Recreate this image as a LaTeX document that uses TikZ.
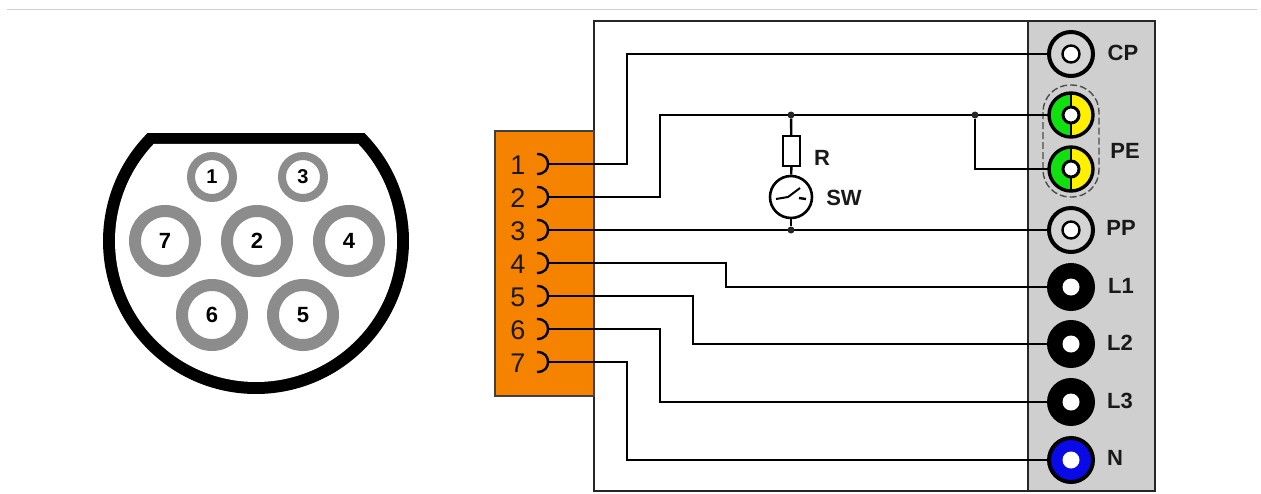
\documentclass[tikz,border=0pt]{standalone}
\usepackage{fontspec}
\setmainfont{Liberation Sans}
\definecolor{panelgrey}{HTML}{CFCFCF}
\definecolor{pingrey}{HTML}{8C8C8C}
\definecolor{bodyorange}{HTML}{F58300}
\definecolor{earthgreen}{HTML}{10E010}
\definecolor{earthyellow}{HTML}{FFF000}
\definecolor{nblue}{HTML}{0A0AE6}
\tikzset{
  wire/.style={line width=2.8pt,black,line join=miter},
  pinbig/.style={circle,draw=pingrey,line width=12pt,minimum size=60pt,inner sep=0pt,fill=white,font=\fontsize{22}{22}\bfseries\selectfont},
  pinsmall/.style={circle,draw=pingrey,line width=8pt,minimum size=42pt,inner sep=0pt,fill=white,font=\fontsize{20}{20}\bfseries\selectfont},
  term/.style={circle,draw=black,line width=4pt,minimum size=44pt,inner sep=0pt,outer sep=0pt},
  hole/.style={circle,draw=black,fill=white,line width=2.4pt,minimum size=17pt,inner sep=0pt},
  holeblack/.style={circle,fill=white,minimum size=17pt,inner sep=0pt},
  lab/.style={font=\fontsize{22}{22}\bfseries\selectfont,text=black!90,inner sep=0pt},
  num/.style={font=\fontsize{27}{27}\selectfont,text=black!90,inner sep=0pt},
  earth/.style={term,line width=3.4pt,path picture={
    \fill[earthgreen] (path picture bounding box.south west) rectangle (path picture bounding box.north);
    \fill[earthyellow] (path picture bounding box.south) rectangle (path picture bounding box.north east);
    \draw[black,line width=2.8pt] (path picture bounding box.south) -- (path picture bounding box.north);}},
  dot/.style={circle,fill=black!85,minimum size=7pt,inner sep=0pt},
  contact/.style={line width=2.4pt,black},
}
\newcommand{\contactarc}[1]{\draw[contact] ([shift={(-11,-10)}]#1) .. controls ([shift={(-3,-10)}]#1) and ([shift={(0,-5)}]#1) .. (#1) .. controls ([shift={(0,5)}]#1) and ([shift={(-3,10)}]#1) .. ([shift={(-11,10)}]#1);}
\begin{document}
\begin{tikzpicture}[x=1pt,y=-1pt]
\useasboundingbox (0,0) rectangle (1261,493);
\fill[white] (0,0) rectangle (1261,493);
\draw[black!18,line width=1.5pt] (7,9.5) -- (1257,9.5);

% left: connector face
\coordinate (ctr) at (256,241);
\fill[black] ([shift={(-44.9:153)}]ctr) arc[start angle=-44.9,end angle=224.9,radius=153] -- cycle;
\fill[white] ([shift={(-43.5:141)}]ctr) arc[start angle=-43.5,end angle=223.5,radius=141] -- cycle;
\node[pinsmall] (p1) at (212,177) {1};
\node[pinsmall] (p3) at (303,177) {3};
\node[pinbig] (p7) at (165,241) {7};
\node[pinbig] (p2) at (257,241) {2};
\node[pinbig] (p4) at (349,241) {4};
\node[pinbig] (p6) at (212,315) {6};
\node[pinbig] (p5) at (303,315) {5};

% enclosure
\fill[panelgrey] (1028,21) rectangle (1155,491);
\draw[line width=2pt,black!85] (594,21) rectangle (1155,491);
\draw[line width=2pt,black!85] (1028,21) -- (1028,491);
\draw[line width=1.4pt,black!75,fill=bodyorange] (495,131) rectangle (594,396);

% digits and contacts
\foreach \n/\y in {1/164,2/197,3/230,4/263,5/296,6/329,7/362}{
  \node[num] (d\n) at (518,\y+1) {\n};
  \coordinate (c\n) at (548,\y);
  \contactarc{c\n}
}

% PE group
\draw[dashed,dash pattern=on 7pt off 3pt,line width=1.4pt,black!70,rounded corners=27pt] (1043,85) rectangle (1099,197);

% terminals
\node[term,fill=panelgrey!90!white] (tCP) at (1071,54) {};
\node[earth] (tPEa) at (1071,115) {};
\node[earth] (tPEb) at (1071,169) {};
\node[term,fill=panelgrey!90!white] (tPP) at (1071,230) {};
\node[term,fill=black] (tL1) at (1071,287) {};
\node[term,fill=black] (tL2) at (1071,344) {};
\node[term,fill=black] (tL3) at (1071,402) {};
\node[term,fill=nblue] (tN) at (1071,460) {};
\node[hole] (hCP) at (tCP) {};
\node[hole,line width=3pt,minimum size=16pt] (hPEa) at (tPEa) {};
\node[hole,line width=3pt,minimum size=16pt] (hPEb) at (tPEb) {};
\node[hole] (hPP) at (tPP) {};
\node[holeblack] (hL1) at (tL1) {};
\node[holeblack] (hL2) at (tL2) {};
\node[holeblack] (hL3) at (tL3) {};
\node[holeblack] (hN) at (tN) {};

% wires
\draw[wire] (c1) -- (627,164) -- (627,54) -- (tCP);
\draw[wire] (c2) -- (660,197) -- (660,115) -- (tPEa);
\draw[wire] (c3) -- (tPP);
\draw[wire] (c4) -- (726,263) -- (726,287) -- (tL1);
\draw[wire] (c5) -- (693,296) -- (693,344) -- (tL2);
\draw[wire] (c6) -- (660,329) -- (660,402) -- (tL3);
\draw[wire] (c7) -- (627,362) -- (627,460) -- (tN);
\node[dot] (j1) at (791,115) {};
\node[dot] (j2) at (975,115) {};
\node[dot] (j3) at (791,230) {};
\draw[wire] (j2) -- (975,169) -- (tPEb);

% resistor and switch
\node[draw=black,line width=2.4pt,fill=white,minimum width=17pt,minimum height=30pt,inner sep=0pt] (res) at (791.5,151) {};
\node[circle,draw=black,line width=2.6pt,fill=white,minimum size=42pt,inner sep=0pt] (sw) at (791,197) {};
\draw[line width=2.4pt] (j1) -- (res);
\draw[line width=2.4pt] (res) -- (sw);
\draw[line width=2.4pt] (sw) -- (j3);
\draw[line width=2pt] (776,199) -- (788,197) -- (800,188);
\draw[line width=2.4pt] (799,198) -- (806,199);

% labels
\node[lab] (lR) at (822,158) {R};
\node[lab] (lSW) at (844,198) {SW};
\node[lab] (lCP) at (1123,53) {CP};
\node[lab] (lPE) at (1125,151) {PE};
\node[lab] (lPP) at (1121,228) {PP};
\node[lab] (lL1) at (1121,286) {L1};
\node[lab] (lL2) at (1120,343) {L2};
\node[lab] (lL3) at (1120,401) {L3};
\node[lab] (lN) at (1115,458) {N};
\end{tikzpicture}
\end{document}
